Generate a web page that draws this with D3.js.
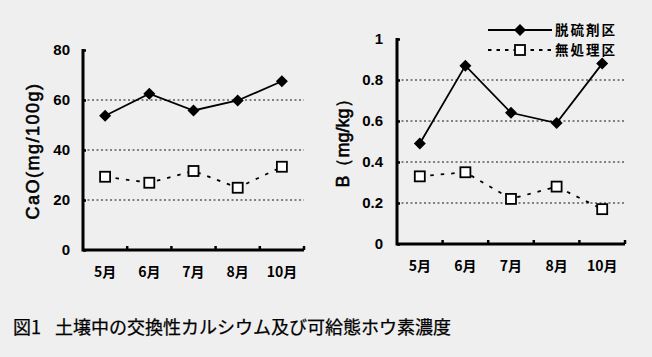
<!DOCTYPE html>
<html><head><meta charset="utf-8">
<script src="https://cdn.jsdelivr.net/npm/d3@7"></script>
<style>
html,body{margin:0;padding:0;background:#efefef;}
svg{display:block;}
</style></head>
<body>
<svg id="c" width="652" height="357"></svg>
<script>
const months = ["5月","6月","7月","8月","10月"];
const seriesNames = ["脱硫剤区","無処理区"];
const caoTreated = [53.7, 62.5, 55.8, 59.8, 67.5];
const caoControl = [29.3, 26.9, 31.6, 24.9, 33.3];
const bTreated = [0.49, 0.87, 0.64, 0.59, 0.88];
const bControl = [0.33, 0.35, 0.22, 0.28, 0.17];
const caoTicks = [0, 20, 40, 60, 80];
const bTicks = [0, 0.2, 0.4, 0.6, 0.8, 1];
const caoTickLabels = ["0","20","40","60","80"];
const bTickLabels = ["0","0.2","0.4","0.6","0.8","1"];
const caption1 = "図1";
const caption2 = "土壌中の交換性カルシウム及び可給態ホウ素濃度";

const svg = d3.select("#c");
const numFont = "'Liberation Sans', Arial, sans-serif";
const jpFont = "'Noto Sans CJK JP', sans-serif";

function panel(cfg){
  const g = svg.append("g");
  const x = d3.scaleBand().domain(months).range([cfg.x0, cfg.x1]);
  const y = d3.scaleLinear().domain([0, cfg.max]).range([cfg.y0, cfg.y1]);
  // gridlines
  g.selectAll(".grid").data(cfg.ticks.filter(t => t > 0 && t < cfg.max)).enter()
    .append("line")
    .attr("x1", cfg.x0).attr("x2", cfg.x1)
    .attr("y1", d => y(d)).attr("y2", d => y(d))
    .attr("stroke", "#111").attr("stroke-width", 1).attr("stroke-dasharray", "2,2.5");
  // y axis ticks (inward)
  const ya = d3.axisRight(y).tickValues(cfg.ticks).tickSize(3).tickFormat("");
  const yg = g.append("g").attr("transform", `translate(${cfg.x0},0)`).call(ya);
  yg.select(".domain").remove();
  yg.selectAll(".tick line").attr("stroke", "#000").attr("stroke-width", 2.5);
  g.selectAll(".ylab").data(cfg.ticks).enter().append("text")
    .attr("x", cfg.x0 - cfg.labGap).attr("y", d => y(d)).attr("dy", "0.36em")
    .attr("text-anchor", "end").attr("font-family", numFont).attr("font-weight", "bold")
    .attr("font-size", 15).attr("fill", "#000")
    .text((d, i) => cfg.tickLabels[i]);
  // x axis category boundaries (inward ticks)
  const bnds = months.map(m => x(m) + x.bandwidth());
  g.selectAll(".xt").data(bnds).enter().append("line")
    .attr("x1", d => d).attr("x2", d => d).attr("y1", cfg.y0).attr("y2", cfg.y0 - 4)
    .attr("stroke", "#000").attr("stroke-width", 2.5);
  // axis lines
  g.append("path").attr("d", `M${cfg.x0},${y(cfg.max)-1}V${cfg.y0}H${cfg.x1}`)
    .attr("fill", "none").attr("stroke", "#000").attr("stroke-width", 3);
  g.selectAll(".xlab").data(months).enter().append("text")
    .attr("x", d => x(d) + x.bandwidth() / 2).attr("y", cfg.xLabY)
    .attr("text-anchor", "middle").attr("font-family", jpFont).attr("font-weight", "bold")
    .attr("font-size", 14).attr("fill", "#000").text(d => d);
  // y title
  g.append("text")
    .attr("transform", `translate(${cfg.titleX},${cfg.titleY}) rotate(-90)`)
    .attr("text-anchor", "middle").attr("dy", "0.35em")
    .attr("font-family", cfg.titleFont).attr("font-size", 18).attr("fill", "#000")
    .attr("stroke", "#000").attr("stroke-width", 0.6)
    .attr("letter-spacing", cfg.titleLs)
    .text(cfg.title);
  const cx = d => x(d) + x.bandwidth() / 2;
  const line = d3.line().x((d, i) => cx(months[i])).y(d => y(d));
  g.append("path").datum(cfg.control).attr("d", line)
    .attr("fill", "none").attr("stroke", "#000").attr("stroke-width", 1.8)
    .attr("stroke-dasharray", "3.5,7");
  g.append("path").datum(cfg.treated).attr("d", line)
    .attr("fill", "none").attr("stroke", "#000").attr("stroke-width", 1.8);
  g.selectAll(".sq").data(cfg.control).enter().append("rect")
    .attr("x", (d, i) => cx(months[i]) - 5).attr("y", d => y(d) - 5)
    .attr("width", 10).attr("height", 10)
    .attr("fill", "#fff").attr("stroke", "#000").attr("stroke-width", 1.8);
  g.selectAll(".dm").data(cfg.treated).enter().append("path")
    .attr("transform", (d, i) => `translate(${cx(months[i])},${y(d)})`)
    .attr("d", "M0,-6L6,0L0,6L-6,0Z").attr("fill", "#000");
}

panel({x0:83, x1:304, y0:250, y1:50, max:80, ticks:caoTicks, tickLabels:caoTickLabels,
  labGap:13, xLabY:277, control:caoControl, treated:caoTreated,
  title:"CaO(mg/100g)", titleX:33, titleY:151, titleFont:numFont, titleLs:1.5});
panel({x0:397, x1:625, y0:244, y1:39, max:1, ticks:bTicks, tickLabels:bTickLabels,
  labGap:14, xLabY:271, control:bControl, treated:bTreated,
  title:"B（mg/kg）", titleX:343, titleY:139, titleFont:numFont, titleLs:0});

// legend
const lg = svg.append("g");
const legendRows = [{y:30, name:seriesNames[0], dash:null, sym:"d"},{y:50, name:seriesNames[1], dash:"3.5,5", sym:"s"}];
legendRows.forEach(r => {
  lg.append("line").attr("x1", 488).attr("x2", 552).attr("y1", r.y).attr("y2", r.y)
    .attr("stroke", "#000").attr("stroke-width", 1.8).attr("stroke-dasharray", r.dash);
  if (r.sym === "d") lg.append("path").attr("transform", `translate(520,${r.y})`).attr("d", "M0,-6L6,0L0,6L-6,0Z").attr("fill", "#000");
  else lg.append("rect").attr("x", 515).attr("y", r.y - 5).attr("width", 10).attr("height", 10)
    .attr("fill", "#fff").attr("stroke", "#000").attr("stroke-width", 1.8);
  lg.append("text").attr("x", 555).attr("y", r.y).attr("dy", "0.36em")
    .attr("font-family", jpFont).attr("font-weight", "bold").attr("font-size", 13.5)
    .attr("letter-spacing", 2).attr("fill", "#000").text(r.name);
});

// caption
const cap = svg.append("text").attr("y", 334).attr("font-family", jpFont).attr("font-size", 18)
  .attr("fill", "#000").attr("stroke", "#000").attr("stroke-width", 0.25);
cap.append("tspan").attr("x", 13).text(caption1);
cap.append("tspan").attr("x", 55).text(caption2);
</script>
</body></html>
